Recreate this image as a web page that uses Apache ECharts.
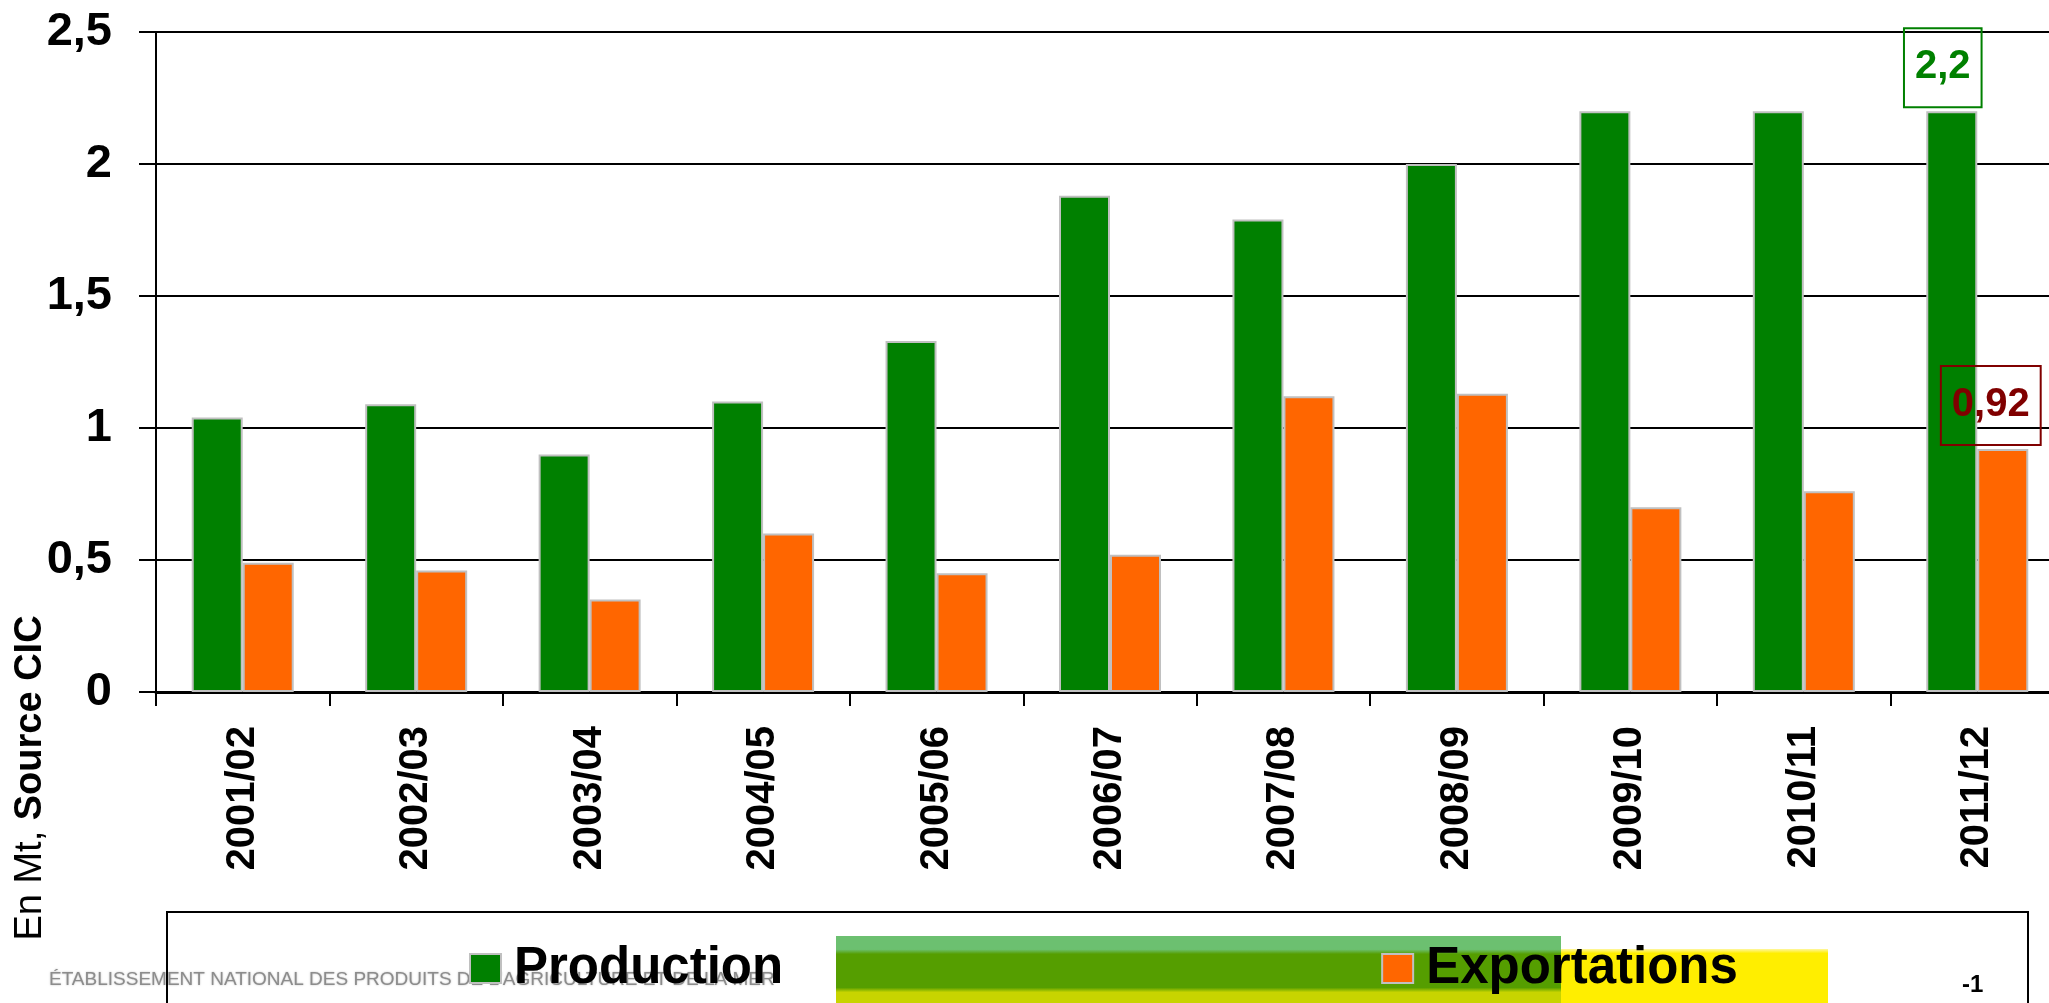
<!DOCTYPE html>
<html>
<head>
<meta charset="utf-8">
<title>Production et exportations</title>
<script src="https://cdn.jsdelivr.net/npm/echarts@6/dist/echarts.min.js"></script>
<style>
  html, body { margin: 0; padding: 0; background: #ffffff; }
  #chart { width: 2049px; height: 1003px; }
</style>
</head>
<body>
<div id="chart"></div>
<script>
// Campagnes (axe des catégories)
const campaigns = ['2001/02', '2002/03', '2003/04', '2004/05', '2005/06', '2006/07',
                   '2007/08', '2008/09', '2009/10', '2010/11', '2011/12'];
// Production, en Mt
const production = [1.04, 1.09, 0.90, 1.10, 1.33, 1.88, 1.79, 2.00, 2.20, 2.20, 2.20];
// Exportations, en Mt
const exportations = [0.49, 0.46, 0.35, 0.60, 0.45, 0.52, 1.12, 1.13, 0.70, 0.76, 0.92];
// Graduations de l'axe des valeurs
const yTicks = { min: 0, max: 2.5, interval: 0.5 };

const FONT = '"Liberation Sans", Arial, Helvetica, sans-serif';
const fr = v => String(v).replace('.', ',');

// Only the last campaign carries a boxed value label
function withLastLabel(values, color, offset) {
  return values.map((v, i) => {
    if (i !== values.length - 1) return v;
    return {
      value: v,
      label: {
        show: true,
        position: 'top',
        distance: 4,
        offset: offset,
        formatter: p => fr(p.value),
        color: color,
        fontFamily: FONT,
        fontWeight: 'bold',
        fontSize: 40,
        lineHeight: 46,
        borderColor: color,
        borderWidth: 2,
        padding: [16, 11, 17, 11]
      }
    };
  });
}

const chart = echarts.init(document.getElementById('chart'), null, { renderer: 'canvas' });

chart.setOption({
  animation: false,
  backgroundColor: '#ffffff',
  grid: {
    left: 156,
    top: 32,
    width: 1908,
    height: 660,
    containLabel: false,
    outerBoundsMode: 'none'
  },
  legend: {
    left: 464,
    top: 938,
    itemWidth: 31,
    itemHeight: 29,
    itemGap: 598,
    icon: 'rect',
    selectedMode: false,
    textStyle: {
      color: '#000', fontFamily: FONT, fontWeight: 'bold', fontSize: 51,
      padding: [0, 0, 0, 8]
    },
    data: ['Production', 'Exportations'],
    z: 10
  },
  xAxis: {
    type: 'category',
    data: campaigns,
    boundaryGap: true,
    axisLine: { show: true, lineStyle: { color: '#000', width: 3 } },
    axisTick: { show: true, length: 14, lineStyle: { color: '#000', width: 2 } },
    axisLabel: {
      rotate: 90,
      margin: 34,
      color: '#000',
      fontFamily: FONT,
      fontWeight: 'bold',
      fontSize: 40,
      interval: 0
    },
    splitLine: { show: false }
  },
  yAxis: {
    type: 'value',
    min: yTicks.min,
    max: yTicks.max,
    interval: yTicks.interval,
    axisLine: { show: true, lineStyle: { color: '#000', width: 2 } },
    axisTick: { show: true, length: 17, lineStyle: { color: '#000', width: 2 } },
    axisLabel: {
      margin: 44,
      color: '#000',
      fontFamily: FONT,
      fontWeight: 'bold',
      fontSize: 47,
      formatter: v => fr(v)
    },
    splitLine: { show: true, lineStyle: { color: '#000', width: 2 } }
  },
  series: [
    {
      name: 'Production',
      type: 'bar',
      barWidth: 51,
      barGap: '0%',
      itemStyle: { color: '#008000', borderColor: '#c0c0c0', borderWidth: 2 },
      data: withLastLabel(production, '#008000', [-9, 0])
    },
    {
      name: 'Exportations',
      type: 'bar',
      barWidth: 51,
      barGap: '0%',
      itemStyle: { color: '#ff6600', borderColor: '#c0c0c0', borderWidth: 2 },
      data: withLastLabel(exportations, '#800000', [-12, 0])
    }
  ],
  graphic: [
    // Unit and source, vertical along the left margin
    {
      type: 'text',
      x: 31,
      y: 778,
      rotation: Math.PI / 2,
      style: {
        text: '{a|En Mt, }{b|Source CIC}',
        align: 'center',
        verticalAlign: 'middle',
        rich: {
          a: { fontFamily: FONT, fontSize: 38, fill: '#000' },
          b: { fontFamily: FONT, fontSize: 38, fontWeight: 'bold', fill: '#000' }
        }
      }
    },
    // Footer: institution name
    {
      type: 'text',
      x: 49,
      y: 980,
      z: 0,
      style: {
        text: "ÉTABLISSEMENT NATIONAL DES PRODUITS DE L'AGRICULTURE ET DE LA MER",
        fontFamily: FONT,
        fontSize: 19,
        fill: '#8c8c8c',
        verticalAlign: 'middle',
        textShadowColor: 'rgba(140,140,140,0.6)',
        textShadowBlur: 2
      }
    },
    // Footer: green band
    {
      type: 'rect',
      z: 1,
      shape: { x: 836, y: 936, width: 725, height: 67 },
      style: {
        fill: new echarts.graphic.LinearGradient(0, 0, 0, 1, [
          { offset: 0, color: '#6cc070' },
          { offset: 0.2, color: '#6cc070' },
          { offset: 0.27, color: '#559e00' },
          { offset: 0.77, color: '#559e00' },
          { offset: 0.84, color: '#c8d400' },
          { offset: 1, color: '#c8d400' }
        ])
      }
    },
    // Footer: yellow band
    {
      type: 'rect',
      z: 1,
      shape: { x: 1561, y: 949, width: 267, height: 54 },
      style: {
        fill: new echarts.graphic.LinearGradient(0, 0, 0, 1, [
          { offset: 0, color: '#fff7a0' },
          { offset: 0.08, color: '#ffee00' },
          { offset: 1, color: '#ffee00' }
        ])
      }
    },
    // Legend frame
    {
      type: 'rect',
      z: 2,
      shape: { x: 167, y: 912, width: 1861, height: 120 },
      style: { fill: null, stroke: '#000', lineWidth: 2 }
    },
    // Slide number
    {
      type: 'text',
      x: 1962,
      y: 985,
      z: 2,
      style: {
        text: '-1',
        fontFamily: FONT,
        fontSize: 24,
        fontWeight: 'bold',
        fill: '#000',
        verticalAlign: 'middle'
      }
    }
  ]
});
</script>
</body>
</html>
